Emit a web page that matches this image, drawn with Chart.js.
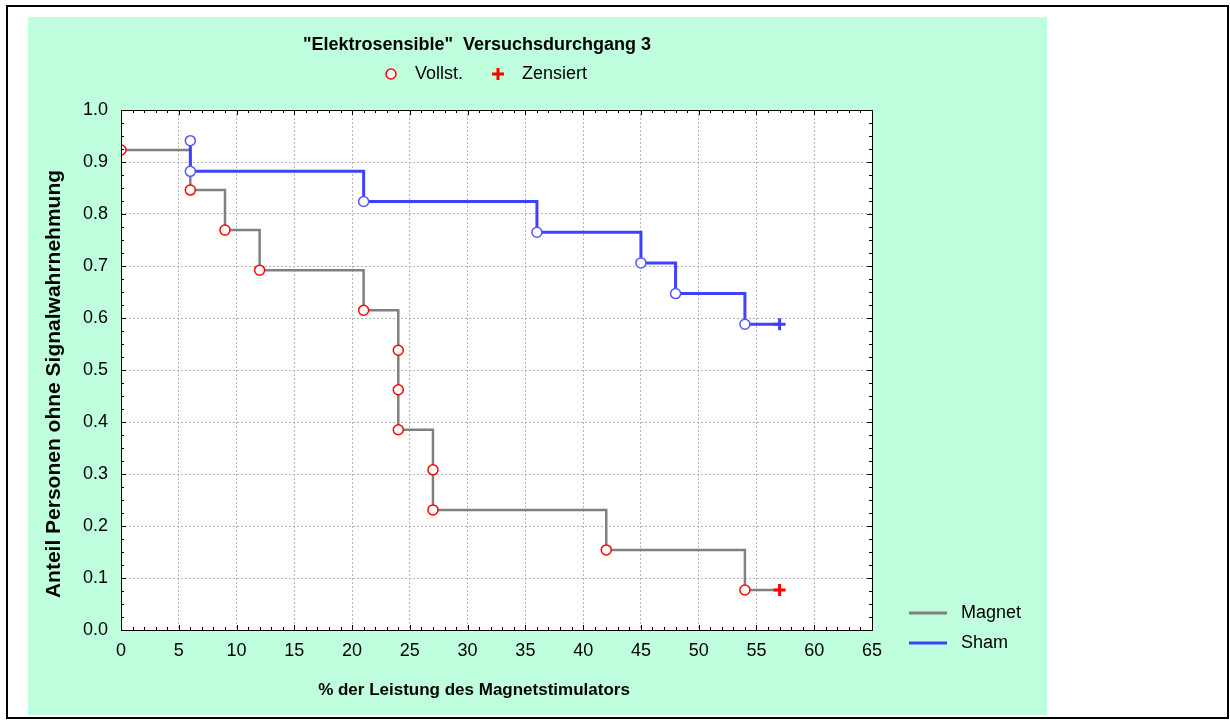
<!DOCTYPE html>
<html>
<head>
<meta charset="utf-8">
<script src="https://cdn.jsdelivr.net/npm/chart.js@4/dist/chart.umd.min.js"></script>
<style>
  html, body { margin: 0; padding: 0; background: #ffffff; }
  #wrap { width: 1230px; height: 720px; }
</style>
</head>
<body>
<div id="wrap"><canvas id="km" width="1230" height="720"></canvas></div>
<script>
// Texts
const chartTitle = '"Elektrosensible"  Versuchsdurchgang 3';
const xAxisTitle = '% der Leistung des Magnetstimulators';
const yAxisTitle = 'Anteil Personen ohne Signalwahrnehmung';
const seriesNames = ['Magnet', 'Sham'];
const markerNames = ['Vollst.', 'Zensiert'];

// Kaplan-Meier estimates: event times and survival proportion after each event
const magnetTimes = [0, 6, 9, 12, 21, 24, 24, 24, 27, 27, 42, 54];
const magnetSurvival = [0.923, 0.846, 0.769, 0.692, 0.615, 0.538, 0.462, 0.385, 0.308, 0.231, 0.154, 0.077];
const magnetCensoredTimes = [57];
const magnetCensoredSurvival = [0.077];

const shamTimes = [6, 6, 21, 36, 45, 48, 54];
const shamSurvival = [0.941, 0.882, 0.824, 0.765, 0.706, 0.647, 0.588];
const shamCensoredTimes = [57];
const shamCensoredSurvival = [0.588];

// Axis ranges
const xRange = [0, 65];
const xStep = 5;
const yRange = [0, 1];
const yStep = 0.1;

const toPoints = (xs, ys) => xs.map((x, i) => ({ x: x, y: ys[i] }));

const COLORS = {
  magnet: '#808080',
  sham: '#4040ff',
  shamMarker: '#5555ff',
  event: '#ff0000',
  panel: 'rgb(192,255,222)',
  grid: '#b4b4b4'
};
const FONT = "'Liberation Sans', Arial, sans-serif";

const decorations = {
  id: 'decorations',
  beforeDraw(chart) {
    const ctx = chart.ctx;
    const a = chart.chartArea;
    ctx.save();
    ctx.fillStyle = '#ffffff';
    ctx.fillRect(0, 0, chart.width, chart.height);
    ctx.fillStyle = COLORS.panel;
    ctx.fillRect(28, 17, 1019, 698);
    ctx.fillStyle = '#ffffff';
    ctx.fillRect(a.left, a.top, a.right - a.left, a.bottom - a.top);
    ctx.strokeStyle = '#000000';
    ctx.lineWidth = 2;
    ctx.strokeRect(7, 6, 1221, 712);
    ctx.restore();
  },
  afterDraw(chart) {
    const ctx = chart.ctx;
    const a = chart.chartArea;
    const xs = chart.scales.x;
    const ys = chart.scales.y;
    ctx.save();
    // plot frame
    ctx.strokeStyle = '#000000';
    ctx.lineWidth = 1;
    ctx.strokeRect(Math.round(a.left) + 0.5, Math.round(a.top) + 0.5,
                   Math.round(a.right - a.left), Math.round(a.bottom - a.top));
    // inward tick marks on all four sides
    ctx.beginPath();
    for (let v = xRange[0]; v <= xRange[1]; v += 1) {
      const px = Math.round(xs.getPixelForValue(v)) + 0.5;
      const len = (v % xStep === 0) ? 5 : 3;
      ctx.moveTo(px, a.bottom); ctx.lineTo(px, a.bottom - len);
      ctx.moveTo(px, a.top); ctx.lineTo(px, a.top + len);
    }
    for (let k = 0; k <= 40; k++) {
      const py = Math.round(ys.getPixelForValue(k * 0.025)) + 0.5;
      const len = (k % 4 === 0) ? 5 : 3;
      ctx.moveTo(a.left, py); ctx.lineTo(a.left + len, py);
      ctx.moveTo(a.right, py); ctx.lineTo(a.right - len, py);
    }
    ctx.stroke();

    // title
    ctx.fillStyle = '#000000';
    ctx.textBaseline = 'middle';
    ctx.textAlign = 'center';
    ctx.font = 'bold 18px ' + FONT;
    ctx.fillText(chartTitle, 477, 45);

    // axis titles
    ctx.font = 'bold 17px ' + FONT;
    ctx.fillText(xAxisTitle, 474, 690);
    ctx.save();
    ctx.translate(54, 384);
    ctx.rotate(-Math.PI / 2);
    ctx.font = 'bold 21px ' + FONT;
    ctx.fillText(yAxisTitle, 0, 0);
    ctx.restore();

    // marker legend
    ctx.font = '18px ' + FONT;
    ctx.textAlign = 'left';
    ctx.beginPath();
    ctx.arc(391, 74, 5, 0, Math.PI * 2);
    ctx.fillStyle = '#ffffff';
    ctx.fill();
    ctx.strokeStyle = COLORS.event;
    ctx.lineWidth = 1.5;
    ctx.stroke();
    ctx.fillStyle = '#000000';
    ctx.fillText(markerNames[0], 415, 74);
    ctx.beginPath();
    ctx.strokeStyle = COLORS.event;
    ctx.lineWidth = 3;
    ctx.moveTo(492, 74); ctx.lineTo(504, 74);
    ctx.moveTo(498, 68); ctx.lineTo(498, 80);
    ctx.stroke();
    ctx.fillText(markerNames[1], 522, 74);

    // series legend
    const rows = [[seriesNames[0], COLORS.magnet, 613], [seriesNames[1], COLORS.sham, 643]];
    rows.forEach(([name, col, y]) => {
      ctx.beginPath();
      ctx.strokeStyle = col;
      ctx.lineWidth = 3;
      ctx.moveTo(909, y); ctx.lineTo(947, y);
      ctx.stroke();
      ctx.fillStyle = '#000000';
      ctx.fillText(name, 961, y);
    });
    ctx.restore();
  }
};

new Chart(document.getElementById('km'), {
  type: 'line',
  data: {
    datasets: [
      {
        label: seriesNames[1] + ' events',
        data: toPoints(shamTimes, shamSurvival),
        showLine: false,
        pointStyle: 'circle',
        pointRadius: 5,
        pointBorderWidth: 1.5,
        pointBorderColor: COLORS.shamMarker,
        pointBackgroundColor: '#ffffff',
        clip: 0,
        order: 0
      },
      {
        label: seriesNames[0] + ' events',
        data: toPoints(magnetTimes, magnetSurvival),
        showLine: false,
        pointStyle: 'circle',
        pointRadius: 5,
        pointBorderWidth: 1.5,
        pointBorderColor: COLORS.event,
        pointBackgroundColor: '#ffffff',
        clip: 0,
        order: 0
      },
      {
        label: seriesNames[1] + ' censored',
        data: toPoints(shamCensoredTimes, shamCensoredSurvival),
        showLine: false,
        pointStyle: 'cross',
        pointRadius: 6,
        pointBorderWidth: 3,
        pointBorderColor: COLORS.sham,
        order: 0
      },
      {
        label: seriesNames[0] + ' censored',
        data: toPoints(magnetCensoredTimes, magnetCensoredSurvival),
        showLine: false,
        pointStyle: 'cross',
        pointRadius: 6,
        pointBorderWidth: 3,
        pointBorderColor: COLORS.event,
        order: 0
      },
      {
        label: seriesNames[1],
        data: toPoints(shamTimes.concat(shamCensoredTimes), shamSurvival.concat(shamCensoredSurvival)),
        stepped: 'before',
        borderColor: COLORS.sham,
        borderWidth: 3,
        pointRadius: 0,
        fill: false,
        order: 1
      },
      {
        label: seriesNames[0],
        data: toPoints(magnetTimes.concat(magnetCensoredTimes), magnetSurvival.concat(magnetCensoredSurvival)),
        stepped: 'before',
        borderColor: COLORS.magnet,
        borderWidth: 2.5,
        pointRadius: 0,
        fill: false,
        order: 2
      }
    ]
  },
  options: {
    responsive: false,
    animation: false,
    events: [],
    layout: { padding: { left: 0, top: 110, right: 358, bottom: 0 } },
    plugins: {
      legend: { display: false },
      title: { display: false },
      tooltip: { enabled: false }
    },
    scales: {
      x: {
        type: 'linear',
        min: xRange[0],
        max: xRange[1],
        ticks: {
          stepSize: xStep,
          padding: 10,
          color: '#000000',
          font: { family: FONT, size: 18 },
          maxRotation: 0
        },
        grid: { color: COLORS.grid, lineWidth: 1, drawTicks: false },
        border: { display: false, dash: [2, 2] },
        afterFit(scale) { scale.height = 90; }
      },
      y: {
        type: 'linear',
        min: yRange[0],
        max: yRange[1],
        ticks: {
          stepSize: yStep,
          padding: 13,
          color: '#000000',
          font: { family: FONT, size: 18 },
          callback: v => Number(v).toFixed(1)
        },
        grid: { color: COLORS.grid, lineWidth: 1, drawTicks: false },
        border: { display: false, dash: [2, 2] },
        afterFit(scale) { scale.width = 121; }
      }
    }
  },
  plugins: [decorations]
});
</script>
</body>
</html>
